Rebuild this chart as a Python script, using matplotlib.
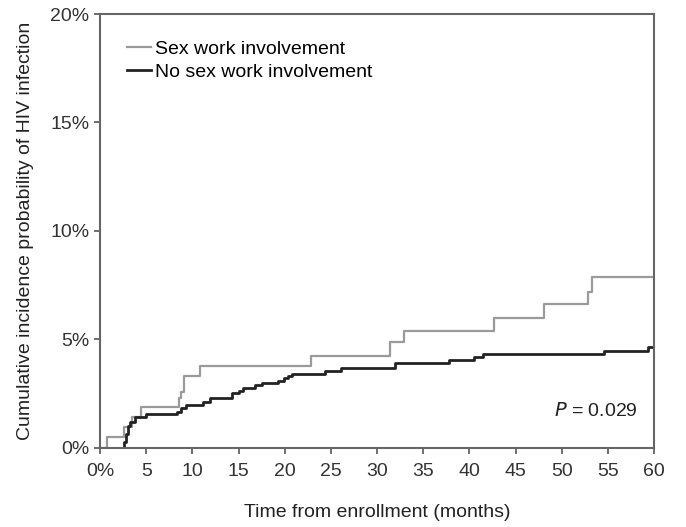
import matplotlib
matplotlib.use("Agg")
import matplotlib.pyplot as plt

plt.rcParams['font.family'] = ['Liberation Sans', 'DejaVu Sans']

# Sex work involvement (months, cumulative incidence %)
sw_t = [0, 0.8, 2.6, 3.5, 4.4, 8.5, 8.8, 9.1, 10.8, 22.9, 31.4, 32.9, 42.7, 48.1, 52.9, 53.3, 60]
sw_p = [0, 0.51, 0.97, 1.43, 1.86, 2.28, 2.55, 3.3, 3.77, 4.25, 4.86, 5.38, 5.97, 6.63, 7.2, 7.89, 7.89]

# No sex work involvement
nsw_t = [0, 2.6, 2.8, 3.0, 3.3, 3.8, 5.0, 8.3, 8.8, 9.3, 11.2, 11.9, 14.3, 15.1, 15.5, 16.8,
         17.5, 19.3, 19.9, 20.4, 20.8, 24.4, 26.1, 32.0, 37.8, 40.5, 41.5, 54.6, 59.4, 60]
nsw_p = [0, 0.25, 0.65, 1.0, 1.2, 1.4, 1.55, 1.66, 1.82, 1.97, 2.12, 2.28, 2.51, 2.63, 2.74, 2.9,
         2.97, 3.09, 3.2, 3.31, 3.4, 3.54, 3.66, 3.9, 4.05, 4.2, 4.32, 4.48, 4.66, 4.75]

x_ticks = [0, 5, 10, 15, 20, 25, 30, 35, 40, 45, 50, 55, 60]
x_labels = ["0%", "5", "10", "15", "20", "25", "30", "35", "40", "45", "50", "55", "60"]
y_ticks = [0, 5, 10, 15, 20]
y_labels = ["0%", "5%", "10%", "15%", "20%"]

fig = plt.figure(figsize=(6.86, 5.27), dpi=100)
ax = fig.add_axes([0.1458, 0.1505, 0.8076, 0.8229])

ax.step(sw_t, sw_p, where='post', color='#9a9a9a', lw=1.6, label='Sex work involvement')
ax.step(nsw_t, nsw_p, where='post', color='#222222', lw=2.0, label='No sex work involvement')

ax.set_xlim(0, 60)
ax.set_ylim(0, 20)
ax.set_xticks(x_ticks)
ax.set_xticklabels(x_labels)
ax.set_yticks(y_ticks)
ax.set_yticklabels(y_labels)
ax.tick_params(direction='out', length=4, width=1.2, colors='#555555', labelcolor='#333333',
               labelsize=14)
ax.tick_params(axis='x', pad=7)
for s in ax.spines.values():
    s.set_color('#666666')
    s.set_linewidth(1.5)

ax.set_xlabel('Time from enrollment (months)', fontsize=14, color='#222222', labelpad=17)
ax.set_ylabel('Cumulative incidence probability of HIV infection', fontsize=14,
              color='#222222', labelpad=12)

leg = ax.legend(loc='upper left', bbox_to_anchor=(0.035, 0.958), frameon=False, fontsize=14,
                handlelength=1.2, handletextpad=0.25, labelspacing=0.3, borderaxespad=0)

ax.text(0.97, 0.085, r'$P$ = 0.029', transform=ax.transAxes, ha='right', va='center',
        fontsize=14, color='#222222')

fig.savefig('out.png', dpi=100)
